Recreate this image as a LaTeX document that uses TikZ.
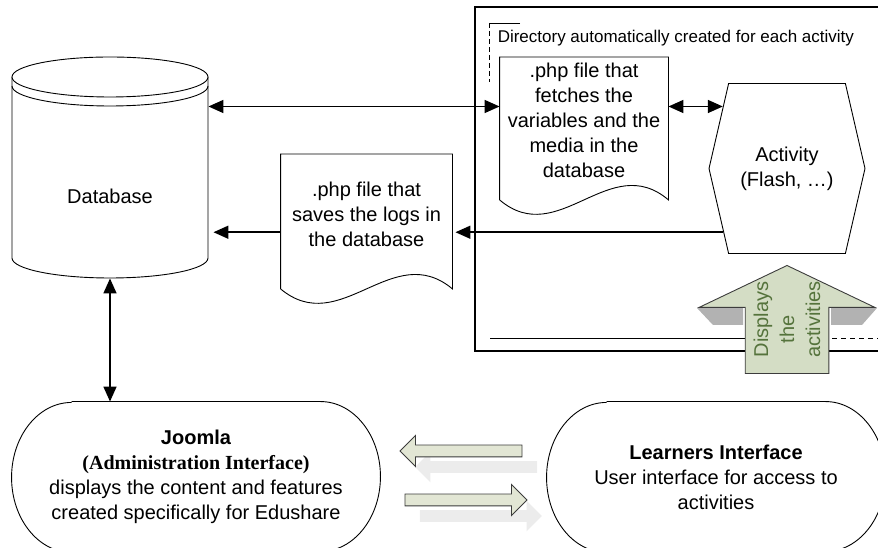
\documentclass[tikz,border=0pt]{standalone}
\usepackage{fontspec}
\setmainfont{Liberation Sans}
\newfontfamily\timesfont{Liberation Serif}
\usetikzlibrary{shapes.geometric, shapes.symbols, shapes.arrows, arrows.meta, positioning, shadows}

\definecolor{sage}{RGB}{212,221,197}
\definecolor{paleolive}{RGB}{226,230,212}
\definecolor{leaf}{RGB}{85,115,60}
\definecolor{rimgray}{RGB}{60,60,60}

\begin{document}
\begin{tikzpicture}[
        x=1pt, y=1pt, line width=0.9pt,
        every node/.style={font=\fontsize{20}{25}\selectfont},
        docbox/.style={align=center, inner sep=0pt},
        hexa/.style={signal, signal to=east and west, signal pointer angle=154, draw, fill=white, minimum width=156pt, minimum height=170pt, align=center},
        pill/.style={align=center, minimum height=150pt},
        arrow/.style={-{Triangle[length=15pt,width=13pt]}, line width=1.6pt},
        biarrow/.style={{Triangle[length=15pt,width=13pt]}-{Triangle[length=15pt,width=13pt]}, line width=1.6pt},
        flow/.style={single arrow, draw=rimgray, fill=paleolive, minimum height=122pt, inner xsep=0pt, inner ysep=5.5pt, single arrow head extend=9.5pt, drop shadow={shadow xshift=15pt, shadow yshift=-16pt, fill=gray!15, draw=none, opacity=1}}
    ]
        \useasboundingbox (0,0) rectangle (878,548);
        \clip (0,0) rectangle (878,548);

        % directory of the activity
        \draw[line width=1.6pt] (475,541) rectangle (900,197);
        \draw (520,525) -- (489,525);
        \draw[dash pattern=on 5pt off 3pt] (489,525) -- (489,466);
        \draw (490,210) -- (787,210);
        \draw[dash pattern=on 5pt off 4pt] (787,210) -- (878,210);
        \node[anchor=west, font=\fontsize{17}{20}\selectfont] (dirlabel) at (494,510) {Directory automatically created for each activity};

        % database
        \draw[fill=white] (12,471) -- (12,290) arc[start angle=180, end angle=360, x radius=98pt, y radius=20pt] -- (208,471);
        \draw[fill=white] (110,471) ellipse [x radius=98pt, y radius=20pt];
        \draw (12,462) arc[start angle=180, end angle=360, x radius=98pt, y radius=20pt];
        \node[minimum width=196pt, minimum height=164pt] (db) at (110,352) {Database};

        % php files
        \node[docbox, anchor=north, minimum width=168pt, minimum height=126pt] (fetch) at (584,491) {.php file that\\fetches the\\variables and the\\media in the\\database};
        \draw ([yshift=-16pt]fetch.south west) -- (fetch.north west) -- (fetch.north east) -- ([yshift=-16pt]fetch.south east)
            .. controls +(-59pt,50pt) and +(59pt,-50pt) .. ([yshift=-16pt]fetch.south west);
        \node[docbox, anchor=north, minimum width=171pt, minimum height=120pt] (logs) at (366.5,394) {.php file that\\saves the logs in\\the database};
        \draw ([yshift=-14pt]logs.south west) -- (logs.north west) -- (logs.north east) -- ([yshift=-14pt]logs.south east)
            .. controls +(-60pt,50pt) and +(60pt,-50pt) .. ([yshift=-14pt]logs.south west);

        \node[hexa] (hex) at (787,379.5) {Activity\\(Flash, …)};

        % green arrow to the learners
        \fill[gray!60] (697,240) -- (743,240) -- (743,223) -- (713,223) -- cycle;
        \fill[gray!60] (831,240) -- (877,240) -- (862,223) -- (831,223) -- cycle;
        \node[single arrow, rotate=90, anchor=tip, draw=rimgray, fill=sage, text=leaf, align=center, font=\fontsize{20}{26}\selectfont, minimum height=108pt, inner sep=8pt, single arrow head extend=46pt, single arrow tip angle=129, single arrow head indent=0pt] (shows) at (787,283) {Displays\hspace*{-20pt}\\the\hspace*{-20pt}\\activities\hspace*{-20pt}};

        % interfaces
        \node[pill, minimum width=368pt] (joomla) at (196,71) {{\bfseries Joomla}\\{\timesfont\bfseries (Administration Interface)}\\displays the content and features\\created specifically for Edushare};
        \draw ([xshift=60pt]joomla.north west) -- ([xshift=-60pt]joomla.north east) arc[start angle=90, end angle=-90, x radius=60pt, y radius=75pt] -- ([xshift=60pt]joomla.south west) arc[start angle=270, end angle=90, x radius=60pt, y radius=75pt];
        \node[pill, minimum width=338pt] (learners) at (716,71) {{\bfseries Learners Interface}\\User interface for access to\\activities};
        \draw ([xshift=60pt]learners.north west) -- ([xshift=-60pt]learners.north east) arc[start angle=90, end angle=-90, x radius=60pt, y radius=75pt] -- ([xshift=60pt]learners.south west) arc[start angle=270, end angle=90, x radius=60pt, y radius=75pt];

        \node[flow, shape border rotate=180] (back) at (464,97) {};
        \node[flow] (forth) at (463,48) {};

        \draw[biarrow] (db.east |- hex.136) -- (fetch.west |- hex.136);
        \draw[biarrow] (fetch.east |- hex.136) -- (hex.136);
        \draw[arrow] (hex.225) -- ([xshift=3pt]logs.east |- hex.225);
        \draw[arrow] (logs.west |- hex.225) -- ([xshift=5pt]db.east |- hex.225);
        \draw[biarrow] (db.south) -- (db.south |- joomla.north);

    \end{tikzpicture}
\end{document}
